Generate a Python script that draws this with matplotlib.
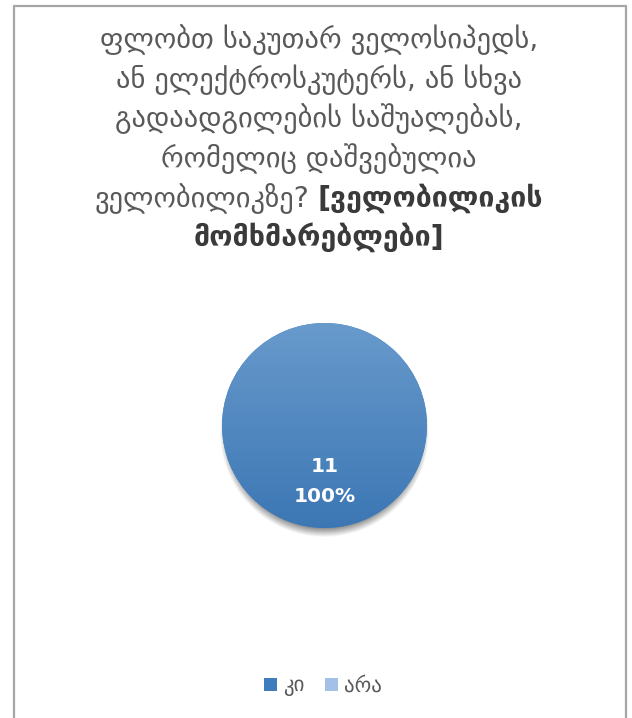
import numpy as np
import matplotlib.pyplot as plt
from matplotlib.patches import Rectangle

plt.rcParams['font.family'] = ['DejaVu Sans']

# მონაცემები
labels = ['კი', 'არა']
counts = [11, 0]
colors = ['#4a86c5', '#a3c1e6']

title_lines = [
    'ფლობთ საკუთარ ველოსიპედს,',
    'ან ელექტროსკუტერს, ან სხვა',
    'გადაადგილების საშუალებას,',
    'რომელიც დაშვებულია',
]
title_tail = 'ველობილიკზე?'
title_bold = ['[ველობილიკის', 'მომხმარებლები]']

W, H = 632, 718
fig = plt.figure(figsize=(W / 100, H / 100), dpi=100)

# ჩარჩო
fig.patches.append(Rectangle((14 / W, -0.05), 612 / W, 1.05 - 6 / H,
                             transform=fig.transFigure, fill=False,
                             edgecolor='#a6a6a6', linewidth=1.6))

# სათაური
fs = 20.5
gray = '#595959'
dark = '#3a3a3a'
cx = 319 / W
base = [48, 88, 127, 167, 207, 246]
for i, line in enumerate(title_lines):
    fig.text(cx, 1 - base[i] / H, line, ha='center', va='baseline',
             fontsize=fs, color=gray)

renderer = fig.canvas.get_renderer()
t1 = fig.text(0, 1 - base[4] / H, title_tail, ha='left', va='baseline',
              fontsize=fs, color=gray)
t2 = fig.text(0, 1 - base[4] / H, title_bold[0], ha='left', va='baseline',
              fontsize=fs, color=dark, fontweight='bold')
w1 = t1.get_window_extent(renderer).width
w2 = t2.get_window_extent(renderer).width
gap = 0.3 * fs * 100 / 72
x0 = cx * W - (w1 + gap + w2) / 2
t1.set_x(x0 / W)
t2.set_x((x0 + w1 + gap) / W)
fig.text(cx, 1 - base[5] / H, title_bold[1], ha='center', va='baseline',
         fontsize=fs, color=dark, fontweight='bold')

# წრიული დიაგრამა
r_px = 102.5
span = 1.3
size = 2 * span * r_px
pcx, pcy = 324.5, 425.5
ax = fig.add_axes([(pcx - size / 2) / W, (H - pcy - size / 2) / H, size / W, size / H])

total = sum(counts)
wedges, texts, autotexts = ax.pie(
    counts, colors=colors, startangle=90, counterclock=False,
    autopct=lambda p: f'{round(p * total / 100)}\n{p:.0f}%' if p > 0 else '',
    pctdistance=0.55,
    textprops=dict(color='white', fontsize=14.5, fontweight='bold', linespacing=1.75),
    wedgeprops=dict(linewidth=0))

# ჩრდილი
n = 400
g = np.linspace(-span, span, n)
X, Y = np.meshgrid(g, g)
d = np.hypot(X, Y + 0.07)
alpha = np.clip((1.02 - d) / 0.11, 0, 1) * 0.55
shadow = np.zeros((n, n, 4))
shadow[..., 3] = alpha
ax.imshow(shadow, extent=(-span, span, -span, span), origin='lower', zorder=0)

# გრადიენტი
top = np.array([0x68, 0x9a, 0xcc]) / 255
bot = np.array([0x3c, 0x77, 0xb4]) / 255
tt = np.linspace(0, 1, 256)[:, None, None]
grad = bot + (top - bot) * tt
grad = np.repeat(grad, 2, axis=1)
for w in wedges:
    w.set_zorder(1)
im = ax.imshow(grad, extent=(-1, 1, -1, 1), origin='lower', zorder=2,
               interpolation='bilinear')
im.set_clip_path(wedges[0])
for t in autotexts:
    t.set_zorder(3)

ax.set_xlim(-span, span)
ax.set_ylim(-span, span)
ax.set_aspect('equal')
ax.axis('off')

# ლეგენდა
leg = fig.legend(wedges, labels, loc='center', bbox_to_anchor=(323 / W, 1 - 686 / H),
                 ncol=2, frameon=False, fontsize=15, labelcolor=gray,
                 handlelength=0.6, handleheight=0.6, handletextpad=0.3,
                 columnspacing=1.0)
leg.legend_handles[0].set_facecolor('#3f7cbd')

fig.savefig('out.png', dpi=100)
